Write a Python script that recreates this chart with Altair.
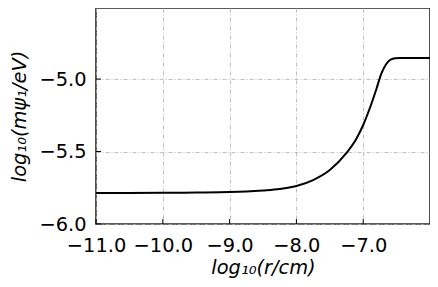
import altair as alt
import pandas as pd

# curve
log_r = [-11.0, -10.0, -9.5, -9.0, -8.75, -8.5, -8.25, -8.0, -7.75, -7.5, -7.25, -7.1,
         -7.0, -6.9, -6.8, -6.73, -6.66, -6.59, -6.52, -6.45, -6.0]
log_m = [-5.786, -5.785, -5.783, -5.780, -5.776, -5.769, -5.759, -5.738, -5.697, -5.628,
         -5.51, -5.41, -5.317, -5.20, -5.065, -4.965, -4.90, -4.866, -4.856, -4.855, -4.855]

x_ticks = [-11.0, -10.0, -9.0, -8.0, -7.0]
y_ticks = [-6.0, -5.5, -5.0]

W, H = 334, 216
FONT = "DejaVu Sans"
FS = 19.4

df = pd.DataFrame({"x": log_r, "y": log_m})
dfx = pd.DataFrame({"x": x_ticks})
dfy = pd.DataFrame({"y": y_ticks})

xscale = alt.Scale(domain=[-11, -6], nice=False, zero=False)
yscale = alt.Scale(domain=[-6, -4.51], nice=False, zero=False)

lbl = "replace(format(datum.value, '.1f'), '-', '\u2212')"

xaxis = alt.Axis(values=x_ticks, labelExpr=lbl, title="log\u2081\u2080(r/cm)",
                 ticks=False, domain=False, labelPadding=12, labelFont=FONT,
                 labelFontSize=FS, labelColor="black", titleFont=FONT, titleFontSize=FS,
                 titleFontStyle="italic", titleFontWeight="normal", titleColor="black",
                 titlePadding=4, grid=True, gridColor="#b0b0b0", gridWidth=0.8,
                 gridDash=[4, 2, 1, 2], labelFlush=False)
yaxis = alt.Axis(values=y_ticks, labelExpr=lbl, title="log\u2081\u2080(m\u03c8\u2081/eV)",
                 ticks=False, domain=False, labelPadding=10, labelFont=FONT,
                 labelFontSize=FS, labelColor="black", titleFont=FONT, titleFontSize=FS,
                 titleFontStyle="italic", titleFontWeight="normal", titleColor="black",
                 titlePadding=9, grid=True, gridColor="#b0b0b0", gridWidth=0.8,
                 gridDash=[4, 2, 1, 2])

line = alt.Chart(df).mark_line(color="black", strokeWidth=2, interpolate="monotone").encode(
    x=alt.X("x:Q", scale=xscale, axis=xaxis),
    y=alt.Y("y:Q", scale=yscale, axis=yaxis),
)

xt = alt.Chart(dfx).mark_rule(color="black", strokeWidth=1).encode(
    x=alt.X("x:Q", scale=xscale, axis=xaxis),
    y=alt.value(H), y2=alt.value(H - 5),
)
yt = alt.Chart(dfy).mark_rule(color="black", strokeWidth=1).encode(
    y=alt.Y("y:Q", scale=yscale, axis=yaxis),
    x=alt.value(0), x2=alt.value(5),
)

chart = alt.layer(line, xt, yt).properties(
    width=W, height=H,
    autosize=alt.AutoSizeParams(type="none"),
    padding={"left": 88, "top": 0, "right": 0, "bottom": 55},
    background="white",
).configure_view(stroke="#262626", strokeWidth=1.6)

chart.save("out.html", embed_options={"renderer": "svg", "actions": False})
